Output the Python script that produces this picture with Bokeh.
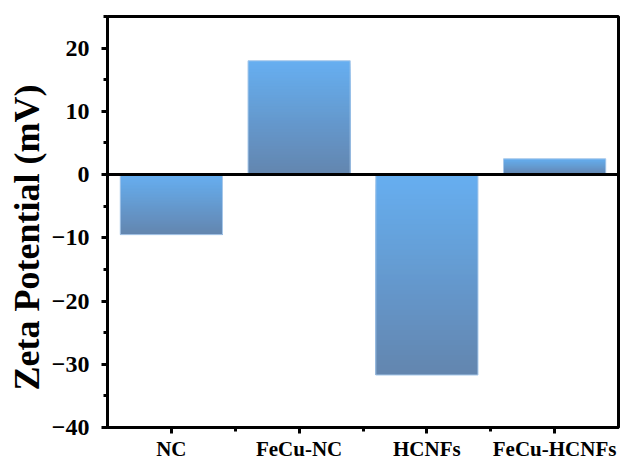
import numpy as np
from bokeh.plotting import figure
from bokeh.models import FixedTicker, Span, ColumnDataSource, Title
from bokeh.embed import file_html
from bokeh.resources import INLINE

categories = ["NC", "FeCu-NC", "HCNFs", "FeCu-HCNFs"]
zeta_mv = [-9.5, 18.0, -31.7, 2.5]
y_ticks = [-40, -30, -20, -10, 0, 10, 20]
y_title = "Zeta Potential (mV)"

FONT = "Liberation Serif"
top_rgb = np.array([0x66, 0xae, 0xf0])
bot_rgb = np.array([0x63, 0x86, 0xaf])

p = figure(width=622, height=463, x_range=(0, len(categories)), y_range=(-40, 25),
           output_backend="svg", toolbar_location=None,
           min_border_left=107, min_border_right=4, min_border_top=16, min_border_bottom=33)

p.grid.visible = False
p.outline_line_color = "black"
p.outline_line_width = 3
p.background_fill_color = "white"
p.border_fill_color = "white"

# gradient bars: overlapping slices, each from a level down to the bar's lower end
n = 40
xs_l, xs_r, ys_b, ys_t, cols = [], [], [], [], []
for i, v in enumerate(zeta_mv):
    lo, hi = min(0, v), max(0, v)
    edges = np.linspace(hi, lo, n + 1)
    for k in range(n):
        f = k / (n - 1)
        c = top_rgb * (1 - f) + bot_rgb * f
        xs_l.append(i + 0.1)
        xs_r.append(i + 0.9)
        ys_t.append(edges[k])
        ys_b.append(lo)
        cols.append("#%02x%02x%02x" % tuple(int(round(x)) for x in c))
p.quad(left=xs_l, right=xs_r, bottom=ys_b, top=ys_t, fill_color=cols, line_color=None)

src = ColumnDataSource(dict(l=[i + 0.1 for i in range(len(categories))],
                            r=[i + 0.9 for i in range(len(categories))],
                            b=[min(0, v) for v in zeta_mv],
                            t=[max(0, v) for v in zeta_mv]))
p.quad(left="l", right="r", bottom="b", top="t", source=src,
       fill_color=None, line_color="#a9c9ea", line_width=1)

p.add_layout(Span(location=0, dimension="width", line_color="black", line_width=3))

# axes
p.xaxis.ticker = FixedTicker(ticks=[i + 0.5 for i in range(len(categories))],
                             minor_ticks=list(range(1, len(categories))))
p.xaxis.major_label_overrides = {i + 0.5: c for i, c in enumerate(categories)}
p.yaxis.ticker = FixedTicker(ticks=y_ticks, minor_ticks=list(range(-35, 26, 10)))
p.yaxis.major_label_overrides = {t: (str(t).replace("-", "\u2212")) for t in y_ticks}

for ax in (p.xaxis[0], p.yaxis[0]):
    ax.axis_line_width = 3
    ax.axis_line_color = "black"
    ax.major_tick_line_width = 3
    ax.minor_tick_line_width = 3
    ax.major_tick_out = 6
    ax.major_tick_in = 0
    ax.minor_tick_out = 4
    ax.minor_tick_in = 0
    ax.major_label_text_font = FONT
    ax.major_label_text_font_style = "bold"
    ax.major_label_text_color = "black"

p.xaxis.major_label_text_font_size = "21px"
p.yaxis.major_label_text_font_size = "24px"
p.xaxis.major_label_standoff = 3
p.yaxis.major_label_standoff = 12

# y-axis title in its own side panel, starting a little above the frame bottom
p.add_layout(Title(text=y_title, align="left", offset=37, standoff=4,
                   text_font=FONT, text_font_style="bold", text_font_size="36px",
                   text_color="black"), "left")

open("out.html", "w").write(file_html(p, INLINE))
